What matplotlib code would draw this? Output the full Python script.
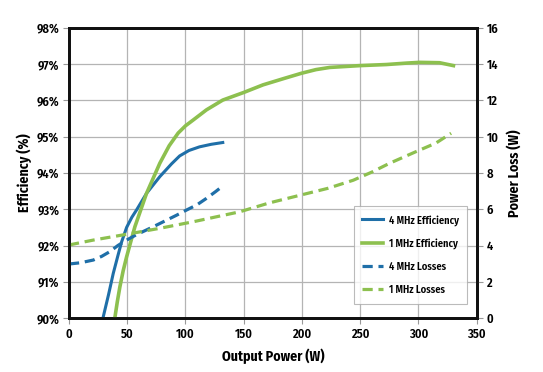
import numpy as np
import matplotlib.pyplot as plt

plt.rcParams['font.family'] = ['Fira Sans Condensed', 'Roboto Condensed', 'DejaVu Sans']
plt.rcParams['font.weight'] = 'semibold'

AZUL = '#1f6fa8'
VERDE = '#8dc04f'

# 4 MHz eficiencia
p4_ef = [29.4, 34, 38, 42, 45.2, 49.5, 54, 58, 66.6, 78, 88, 95, 103, 112, 122, 132]
e4_ef = [90.03, 90.65, 91.23, 91.72, 92.1, 92.5, 92.78, 92.98, 93.44, 93.9, 94.25, 94.47, 94.62, 94.72, 94.79, 94.84]
# 1 MHz eficiencia
p1_ef = [39.5, 41.5, 43.7, 46.5, 49.5, 56.6, 66.6, 78, 86, 93.7, 100, 106.6, 118, 132, 150, 166.6, 185, 199.6,
         212, 223.8, 249.6, 272.5, 290, 301, 318, 330]
e1_ef = [90.03, 90.45, 90.86, 91.3, 91.69, 92.52, 93.44, 94.27, 94.75, 95.1, 95.3, 95.46, 95.74, 96.01, 96.22,
         96.43, 96.61, 96.75, 96.85, 96.91, 96.96, 96.99, 97.03, 97.05, 97.04, 96.96]
# 4 MHz perdidas
p4_loss = [0, 10, 20.9, 28, 35, 42, 49.5, 58, 66.6, 75, 83.8, 92, 101, 110, 118, 126, 132]
l4_loss = [2.98, 3.05, 3.2, 3.4, 3.66, 4.0, 4.3, 4.6, 4.86, 5.12, 5.4, 5.66, 5.96, 6.25, 6.6, 6.98, 7.28]
# 1 MHz perdidas
p1_loss = [0, 20.9, 49.5, 78, 106.6, 146.6, 172, 200, 222, 244, 260, 275, 298, 315, 328]
l1_loss = [4.03, 4.3, 4.62, 4.95, 5.31, 5.86, 6.35, 6.8, 7.15, 7.6, 8.05, 8.53, 9.18, 9.65, 10.19]

fig = plt.figure(figsize=(5.43, 3.72), dpi=100)
ax = fig.add_axes([0.127, 0.145, 0.751, 0.78])
ax2 = ax.twinx()

l1, = ax.plot(p4_ef, e4_ef, color=AZUL, lw=2.2, label='4 MHz Efficiency', zorder=3)
l2, = ax.plot(p1_ef, e1_ef, color=VERDE, lw=2.6, label='1 MHz Efficiency', zorder=3)
l3, = ax2.plot(p4_loss, l4_loss, color=AZUL, lw=2.3, ls=(0, (3.2, 1.8)), label='4 MHz Losses')
l4, = ax2.plot(p1_loss, l1_loss, color=VERDE, lw=2.3, ls=(0, (3.2, 1.8)), label='1 MHz Losses')

ax.set_xlim(0, 350)
ax.set_ylim(90, 98)
ax2.set_ylim(0, 16)
ax.set_xticks(np.arange(0, 351, 50))
ax.set_yticks(np.arange(90, 98.1, 1))
ax.set_yticklabels([f'{v}%' for v in range(90, 99)])
ax2.set_yticks(np.arange(0, 17, 2))
ax.grid(True, color='#b4b4b4', lw=0.9)
ax.set_axisbelow(True)

for a in (ax, ax2):
    for s in a.spines.values():
        s.set_linewidth(2)
        s.set_color('#111111')
    a.tick_params(length=4, width=0.8, color='#999999', labelsize=9, pad=3)

ax.set_xlabel('Output Power (W)', fontsize=10, fontweight='bold', labelpad=6)
ax.set_ylabel('Efficiency (%)', fontsize=10, fontweight='bold', labelpad=3)
ax2.set_ylabel('Power Loss (W)', fontsize=10, fontweight='bold', labelpad=6)

leg = ax2.legend(handles=[l1, l2, l3, l4], loc='lower right', bbox_to_anchor=(0.99, 0.032),
                 fontsize=7.5, frameon=True, fancybox=False, edgecolor='#aaaaaa',
                 handlelength=2.0, handletextpad=0.6, labelspacing=1.2, borderpad=0.8)
leg.get_frame().set_linewidth(0.8)

fig.savefig('out.png', dpi=100)
